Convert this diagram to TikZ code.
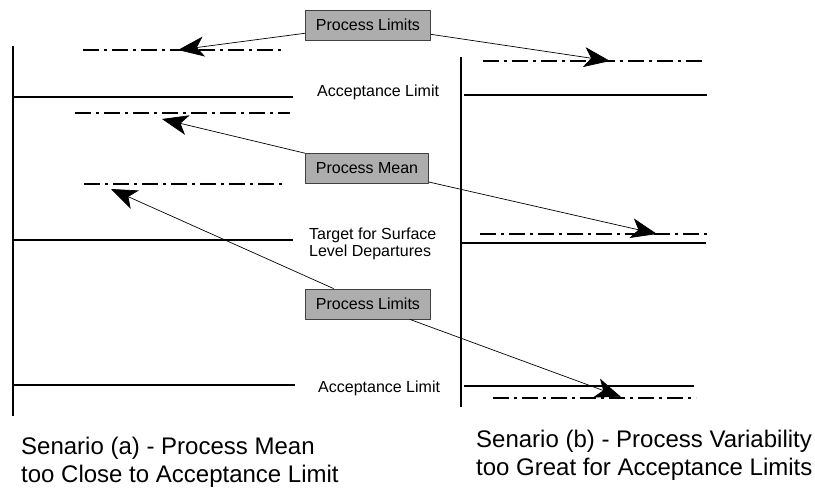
\documentclass[tikz,border=0pt]{standalone}
\usepackage{fontspec}
\setmainfont{Liberation Sans}
\usetikzlibrary{arrows.meta}
\begin{document}
\begin{tikzpicture}[x=1pt,y=-1pt,line join=round,
	limitbox/.style={draw=black!75,fill=black!32,line width=0.8pt,inner xsep=10.5pt,minimum height=30pt,font=\fontsize{16}{19}\selectfont},
	lbl/.style={anchor=base west,inner sep=0pt,font=\fontsize{16}{17}\selectfont},
	caption/.style={anchor=north west,inner sep=0pt,align=left,font=\fontsize{24}{28}\selectfont},
	level/.style={line width=1.8pt},
	band/.style={line width=1.8pt,dash pattern=on 16pt off 5pt on 3pt off 5pt},
	pointer/.style={-{Stealth[length=26pt,width=20pt,inset=7pt]},line width=0.7pt}]
	\useasboundingbox (0,0) rectangle (815,494);
	%Two scales
	\draw[level] (13,46)--(13,416);
	\draw[level] (461,57)--(461,407);
	%Acceptance limits and targets
	\foreach \xa/\xb/\y in {13/293/97,13/293/240,13/295/385,464/707/95,461/706/243,464/694/386}
		\draw[level] (\xa,\y)--(\xb,\y);
	%Process mean and limits
	\foreach \xa/\xb/\y in {83/283/50,75/290/113,84/284/184,483/702/61,480/707/234,493/696/398}
		\draw[band] (\xa,\y)--(\xb,\y);
	%Labels
	\node[lbl] (acctop) at (317,97) {Acceptance Limit};
	\node[lbl,anchor=north west,align=left] (target) at (309,228) {Target for Surface\\Level Departures};
	\node[lbl] (accbot) at (318,393) {Acceptance Limit};
	\node[caption] (capa) at (21,437) {Senario (a) - Process Mean\\too Close to Acceptance Limit};
	\node[caption] (capb) at (476,430) {Senario (b) - Process Variability\\too Great for Acceptance Limits};
	%Boxes and pointers
	\node[limitbox] (limtop) at (368,25) {Process Limits};
	\node[limitbox] (mean) at (367,168) {Process Mean};
	\node[limitbox] (limbot) at (368,304) {Process Limits};
	\coordinate (tipa) at (178,50);
	\coordinate (tipb) at (610,61);
	\coordinate (tipc) at (162,119);
	\coordinate (tipd) at (657,234);
	\coordinate (tipe) at (111,189);
	\coordinate (tipf) at (621,397);
	\draw[pointer] (limtop)--(tipa);
	\draw[pointer] (limtop)--(tipb);
	\draw[pointer] (mean)--(tipc);
	\draw[pointer] (mean)--(tipd);
	\draw[pointer] (limbot)--(tipe);
	\draw[pointer] (limbot)--(tipf);
\end{tikzpicture}
\end{document}
